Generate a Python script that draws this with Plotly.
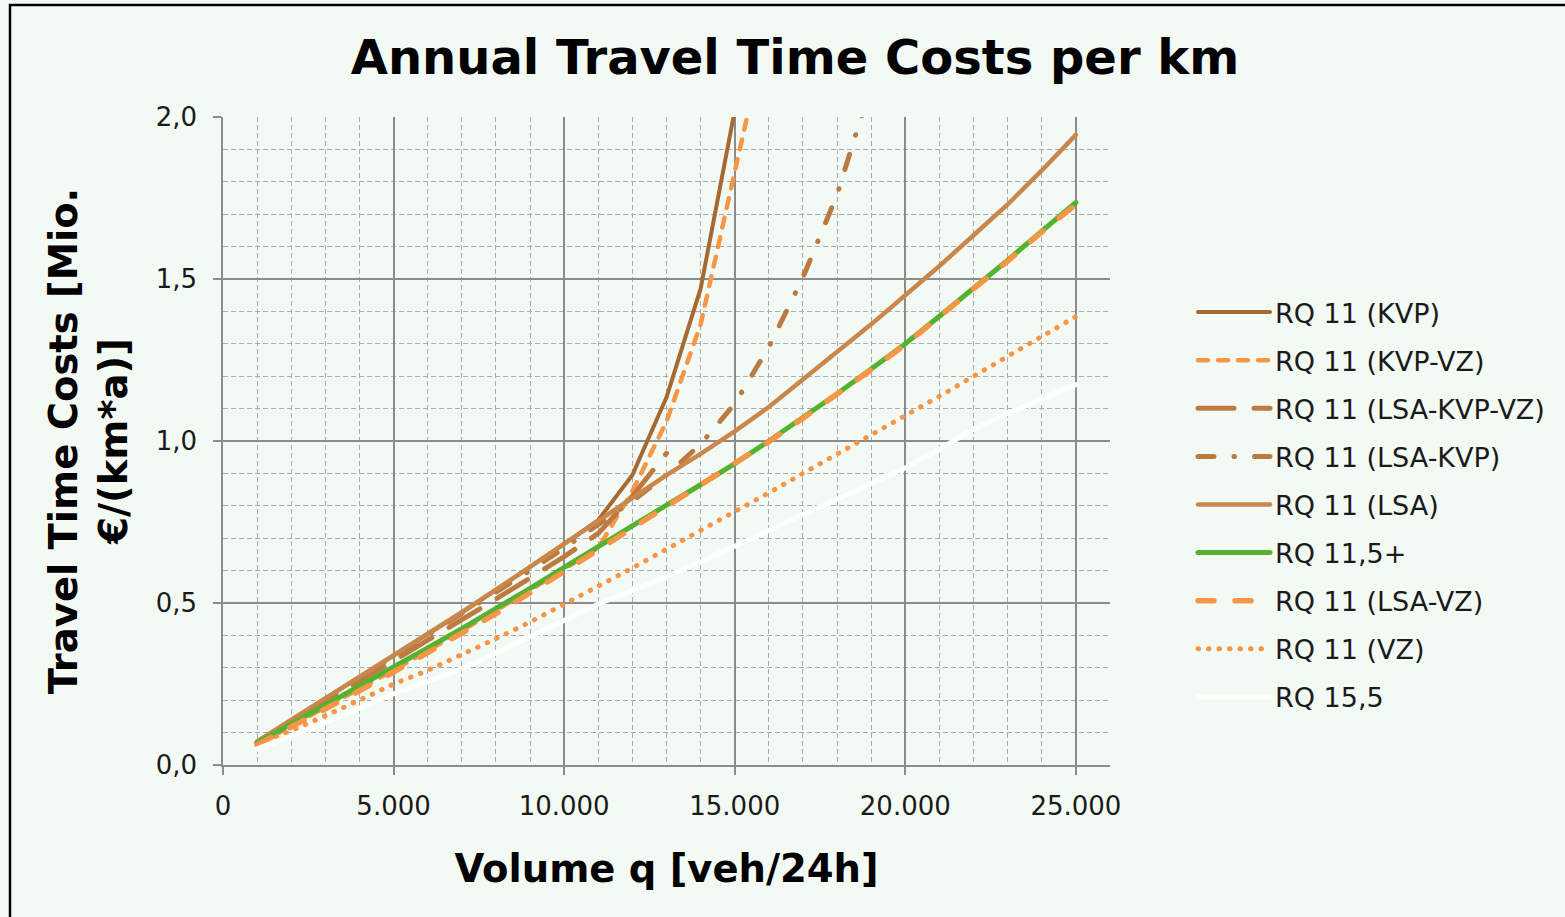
import plotly.graph_objects as go

# ---------------- data ----------------
volume = [1000, 2000, 3000, 4000, 5000, 6000, 7000, 8000, 9000, 10000,
          11000, 12000, 13000, 14000, 15000, 16000, 17000, 18000, 19000,
          20000, 21000, 22000, 23000, 24000, 25000]

rq11_kvp = [0.072, 0.138, 0.204, 0.270, 0.336, 0.402, 0.470, 0.540, 0.610, 0.682,
            0.756, 0.895, 1.135, 1.470, 2.020]
rq11_kvp_vz = [0.063, 0.120, 0.177, 0.235, 0.293, 0.352, 0.414, 0.476, 0.540, 0.605,
               0.670, 0.845, 1.060, 1.360, 1.840, 2.300]
rq11_lsa_kvp_vz = [0.068, 0.131, 0.194, 0.257, 0.320, 0.383, 0.447, 0.512, 0.577, 0.643,
                   0.715, 0.830, 0.962]
rq11_lsa_kvp = [0.070, 0.136, 0.201, 0.266, 0.332, 0.398, 0.465, 0.532, 0.600, 0.670,
                0.742, 0.815, 0.895, 0.990, 1.115, 1.290, 1.505, 1.760, 2.100]
rq11_lsa = [0.073, 0.139, 0.205, 0.271, 0.337, 0.404, 0.472, 0.541, 0.611, 0.683,
            0.755, 0.825, 0.895, 0.960, 1.030, 1.105, 1.190, 1.275, 1.360, 1.450,
            1.540, 1.635, 1.730, 1.835, 1.945]
rq115_plus = [0.068, 0.126, 0.184, 0.243, 0.302, 0.361, 0.421, 0.482, 0.545, 0.610,
              0.675, 0.740, 0.802, 0.865, 0.930, 1.000, 1.072, 1.146, 1.222, 1.300,
              1.385, 1.470, 1.558, 1.648, 1.736]
rq11_lsa_vz = [0.062, 0.117, 0.172, 0.229, 0.287, 0.346, 0.406, 0.467, 0.531, 0.597,
               0.664, 0.732, 0.797, 0.862, 0.928, 0.998, 1.070, 1.144, 1.220, 1.298,
               1.382, 1.467, 1.555, 1.645, 1.730]
rq11_vz = [0.060, 0.105, 0.152, 0.200, 0.250, 0.292, 0.340, 0.390, 0.441, 0.495,
           0.552, 0.608, 0.665, 0.722, 0.780, 0.840, 0.900, 0.959, 1.019, 1.077,
           1.138, 1.200, 1.260, 1.322, 1.384]
rq155 = [0.050, 0.090, 0.131, 0.175, 0.220, 0.258, 0.297, 0.345, 0.395, 0.448,
         0.497, 0.538, 0.582, 0.627, 0.675, 0.725, 0.773, 0.820, 0.870, 0.917,
         0.975, 1.036, 1.085, 1.130, 1.174]

series_names = ["RQ 11 (KVP)", "RQ 11 (KVP-VZ)", "RQ 11 (LSA-KVP-VZ)", "RQ 11 (LSA-KVP)",
                "RQ 11 (LSA)", "RQ 11,5+", "RQ 11 (LSA-VZ)", "RQ 11 (VZ)", "RQ 15,5"]
series_values = [rq11_kvp, rq11_kvp_vz, rq11_lsa_kvp_vz, rq11_lsa_kvp,
                 rq11_lsa, rq115_plus, rq11_lsa_vz, rq11_vz, rq155]

x_tickvals = [0, 5000, 10000, 15000, 20000, 25000]
x_ticktext = ["0", "5.000", "10.000", "15.000", "20.000", "25.000"]
y_tickvals = [0.0, 0.5, 1.0, 1.5, 2.0]
y_ticktext = ["0,0", "0,5", "1,0", "1,5", "2,0"]

# ---------------- styles ----------------
styles = [
    dict(color="#A56A33", width=4, dash="solid"),
    dict(color="#F79646", width=4.5, dash="10px,10px"),
    dict(color="#BD7B42", width=5, dash="36px,20px"),
    dict(color="#BA7A40", width=5, dash="16px,20px,0.5px,20px"),
    dict(color="#C9874C", width=4.5, dash="solid"),
    dict(color="#55B230", width=5, dash="solid"),
    dict(color="#F79646", width=5.5, dash="16px,21px"),
    dict(color="#F79646", width=5, dash="0.5px,10px"),
    dict(color="#FFFFFF", width=5, dash="solid"),
]

FONT = "DejaVu Sans"
BG = "#F3FAF4"

fig = go.Figure()
for i, (name, vals, st) in enumerate(zip(series_names, series_values, styles)):
    fig.add_trace(go.Scatter(
        x=volume[:len(vals)], y=vals, mode="lines", name=name,
        line=dict(color=st["color"], width=st["width"], dash=st["dash"]),
        legendgroup=f"g{i}", hoverinfo="x+y+name",
    ))

fig.update_layout(
    width=1565, height=917,
    margin=dict(l=223, r=455, t=117, b=152),
    paper_bgcolor=BG, plot_bgcolor=BG,
    separators=",.",
    font=dict(family=FONT, size=26, color="#1A1A1A"),
    title=dict(text="Annual Travel Time Costs per km",
               font=dict(family=FONT, size=48, color="#000000", weight=700),
               x=795 / 1565, xref="container", xanchor="center",
               y=1 - 57 / 917, yref="container", yanchor="middle"),
    showlegend=True,
    legend=dict(x=(1193 - 223) / 887, xanchor="left", y=0.736, yanchor="top",
                bgcolor="rgba(0,0,0,0)", font=dict(family=FONT, size=27, color="#1A1A1A"),
                traceorder="grouped", tracegroupgap=10, itemwidth=72),
)

fig.update_xaxes(
    range=[0, 26000],
    tickvals=x_tickvals, ticktext=x_ticktext,
    ticks="outside", ticklen=8, tickwidth=1.5, tickcolor="#8C8C8C",
    ticklabelstandoff=9,
    tickfont=dict(family=FONT, size=26, color="#1A1A1A"),
    showline=True, linecolor="#8C8C8C", linewidth=1.5,
    showgrid=True, gridcolor="#8C8C8C", gridwidth=1.5,
    minor=dict(dtick=1000, tick0=0, showgrid=True, gridcolor="#ABABAB",
               gridwidth=1.2, griddash="5px,3px", ticks=""),
    zeroline=False,
    title=dict(text="Volume q [veh/24h]", standoff=35,
               font=dict(family=FONT, size=38.5, color="#000000", weight=700)),
)
fig.update_yaxes(
    range=[0, 2.0],
    tickvals=y_tickvals, ticktext=y_ticktext,
    ticks="outside", ticklen=8, tickwidth=1.5, tickcolor="#8C8C8C",
    ticklabelstandoff=11,
    tickfont=dict(family=FONT, size=26, color="#1A1A1A"),
    showline=True, linecolor="#8C8C8C", linewidth=1.5,
    showgrid=True, gridcolor="#8C8C8C", gridwidth=1.5,
    minor=dict(dtick=0.1, tick0=0, showgrid=True, gridcolor="#ABABAB",
               gridwidth=1.2, griddash="5px,3px", ticks=""),
    zeroline=False,
    title=dict(text="Travel Time Costs [Mio.<br>€/(km*a)]", standoff=16,
               font=dict(family=FONT, size=38.5, color="#000000", weight=700)),
)

# outer chart border (left & top visible in the reference)
fig.add_shape(type="rect", xref="paper", yref="paper",
              x0=(10 - 223) / 887, x1=1.7, y0=-0.4, y1=(765 - 5) / 648,
              line=dict(color="#000000", width=2.5), fillcolor="rgba(0,0,0,0)", layer="below")

post = ("document.body.style.margin='0';"
        "document.body.style.background='" + BG + "';"
        "var s=document.createElement('style');"
        "s.innerHTML='.js-line{stroke-linecap:round;}';"
        "document.head.appendChild(s);")
fig.write_html("out.html", post_script=post, config={"displayModeBar": False})
